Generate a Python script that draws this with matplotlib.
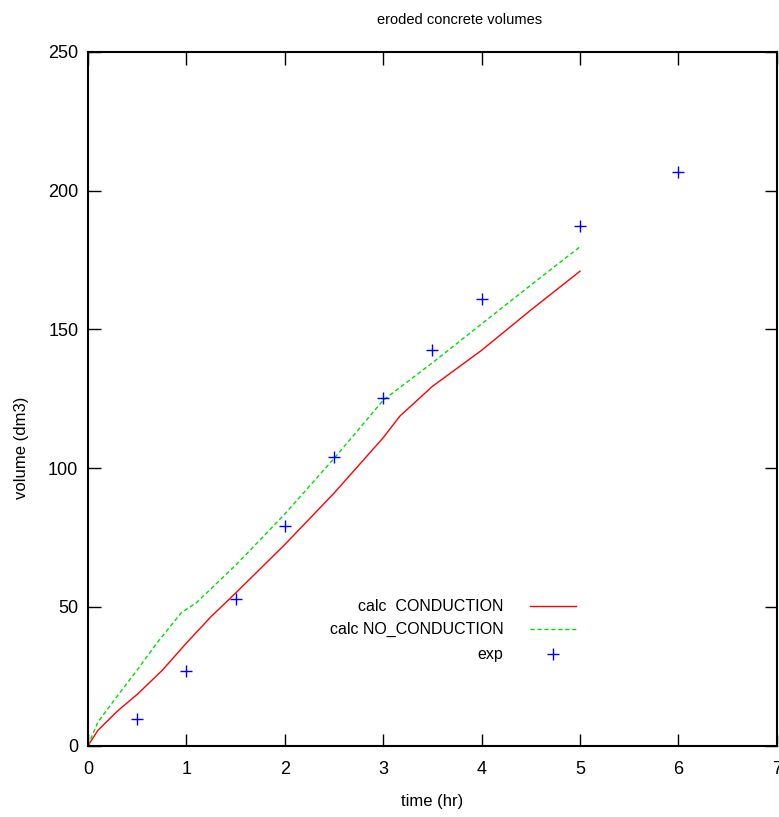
"""Eroded concrete volumes: calculated (with / without conduction) vs experiment."""
import matplotlib
matplotlib.use("Agg")
import matplotlib.pyplot as plt

# --- data ---
t_cond = [0.0, 0.1, 0.3, 0.5, 0.75, 1.0, 1.25, 1.5, 2.0, 2.5, 3.0, 3.17, 3.5, 4.0, 4.5, 5.0]
v_cond = [0.0, 5.5, 12.5, 18.5, 27.0, 37.0, 46.5, 55.0, 72.5, 91.0, 111.0, 118.8, 129.5, 142.5, 157.0, 171.0]

t_nocond = [0.0, 0.1, 0.3, 0.5, 0.7, 0.95, 1.1, 1.5, 2.0, 2.5, 3.0, 3.5, 4.0, 4.5, 5.0]
v_nocond = [0.0, 8.5, 18.0, 27.3, 37.0, 48.0, 51.5, 65.0, 83.5, 103.5, 124.5, 138.0, 152.0, 166.0, 179.8]

t_exp = [0.5, 1.0, 1.5, 2.0, 2.5, 3.0, 3.5, 4.0, 5.0, 6.0]
v_exp = [9.5, 26.8, 53.0, 79.3, 104.0, 125.4, 142.6, 161.0, 187.4, 206.9]

labels = ["calc  CONDUCTION", "calc NO_CONDUCTION", "exp"]

plt.rcParams["font.family"] = ["Liberation Sans", "DejaVu Sans"]

fig = plt.figure(figsize=(7.79, 8.17), dpi=100)
ax = fig.add_axes([88 / 779, 71.3 / 817, 688.8 / 779, 693.7 / 817])

ax.plot(t_cond, v_cond, color="#ff0000", lw=1.0)
ax.plot(t_nocond, v_nocond, color="#00dd00", lw=1.0, dashes=(3, 2))
ax.plot(t_exp, v_exp, ls="none", marker="+", ms=8, mew=1.0, color="#0000ff")

ax.set_xlim(0, 7)
ax.set_ylim(0, 250)
ax.set_xticks(range(0, 8))
ax.set_yticks(range(0, 251, 50))
ax.tick_params(direction="in", length=9, width=1, top=True, right=True,
               labelsize=13)
ax.tick_params(axis="x", pad=11)
ax.tick_params(axis="y", pad=7)
for s in ax.spines.values():
    s.set_linewidth(1.5)

ax.set_title("eroded concrete volumes", fontsize=10.5, x=0.54, pad=20)
ax.set_xlabel("time (hr)", fontsize=12)
ax.set_ylabel("volume (dm3)", fontsize=12)
ax.xaxis.set_label_coords(0.5, -0.069)
ax.yaxis.set_label_coords(-0.086, 0.43)

# gnuplot-style key: right-aligned text, sample to the right
rows = [0.201, 0.168, 0.132]
for y, lab in zip(rows, labels):
    ax.text(0.603, y, lab, transform=ax.transAxes, ha="right", va="center", fontsize=11.5)
ax.plot([0.642, 0.708], [rows[0]] * 2, transform=ax.transAxes, color="#ff0000", lw=1.0)
ax.plot([0.642, 0.708], [rows[1]] * 2, transform=ax.transAxes, color="#00dd00", lw=1.0, dashes=(3, 2))
ax.plot([0.675], [rows[2]], transform=ax.transAxes, ls="none", marker="+", ms=8, mew=1.0, color="#0000ff")

fig.savefig("out.png", dpi=100)
